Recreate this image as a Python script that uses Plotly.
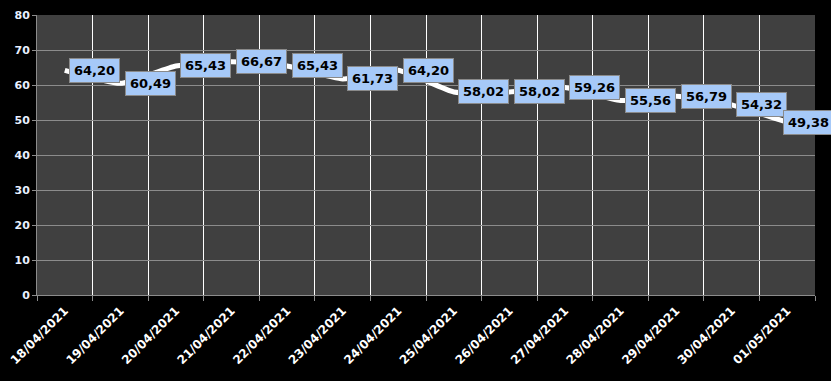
import plotly.graph_objects as go

dates = ["18/04/2021", "19/04/2021", "20/04/2021", "21/04/2021", "22/04/2021",
         "23/04/2021", "24/04/2021", "25/04/2021", "26/04/2021", "27/04/2021",
         "28/04/2021", "29/04/2021", "30/04/2021", "01/05/2021"]
values = [64.20, 60.49, 65.43, 66.67, 65.43, 61.73, 64.20, 58.02, 58.02, 59.26,
          55.56, 56.79, 54.32, 49.38]
label_shift = [30, 30, 30, 30, 30, 30, 30, 30, 30, 30, 30, 30, 30, 21]

fig = go.Figure()
fig.add_trace(go.Scatter(
    x=dates, y=values, mode="lines",
    line=dict(color="white", width=5, shape="spline", smoothing=0.45),
    hoverinfo="skip", showlegend=False))

annotations = []
for d, v, s in zip(dates, values, label_shift):
    annotations.append(dict(
        x=d, y=v, xref="x", yref="y", text="<b>" + f"{v:.2f}".replace(".", ",") + "</b>",
        showarrow=False, xshift=s, yshift=0,
        font=dict(family="Tahoma, DejaVu Sans, sans-serif", size=13, color="black"),
        bgcolor="#a6c9f8", bordercolor="#8a8a8a", borderwidth=1, borderpad=4))

tfont = dict(family="Tahoma, DejaVu Sans, sans-serif", size=12, color="white")

fig.update_layout(
    width=831, height=381,
    margin=dict(l=37, r=16, t=15, b=86),
    paper_bgcolor="black", plot_bgcolor="#404040",
    annotations=annotations,
    xaxis=dict(
        type="category", tickson="boundaries", showgrid=True, gridcolor="white",
        gridwidth=1, ticks="outside", ticklen=5, tickcolor="#8c8c8c",
        showline=True, linecolor="#8c8c8c", tickangle=-45,
        tickfont=tfont, ticklabelstandoff=3, automargin=False,
        range=[-0.5, 13.5], zeroline=False,
        tickprefix="<b>", ticksuffix="</b>"),
    yaxis=dict(
        range=[0, 80], dtick=10, showgrid=True, gridcolor="#8c8c8c", gridwidth=1,
        ticks="outside", ticklen=4, tickcolor="#8c8c8c", showline=True,
        linecolor="#8c8c8c", zeroline=False, automargin=False,
        tickfont=dict(family="Tahoma, DejaVu Sans, sans-serif", size=11, color="#e8f0ff"),
        tickprefix="<b>", ticksuffix="</b>"),
)

fig.write_html("out.html")
